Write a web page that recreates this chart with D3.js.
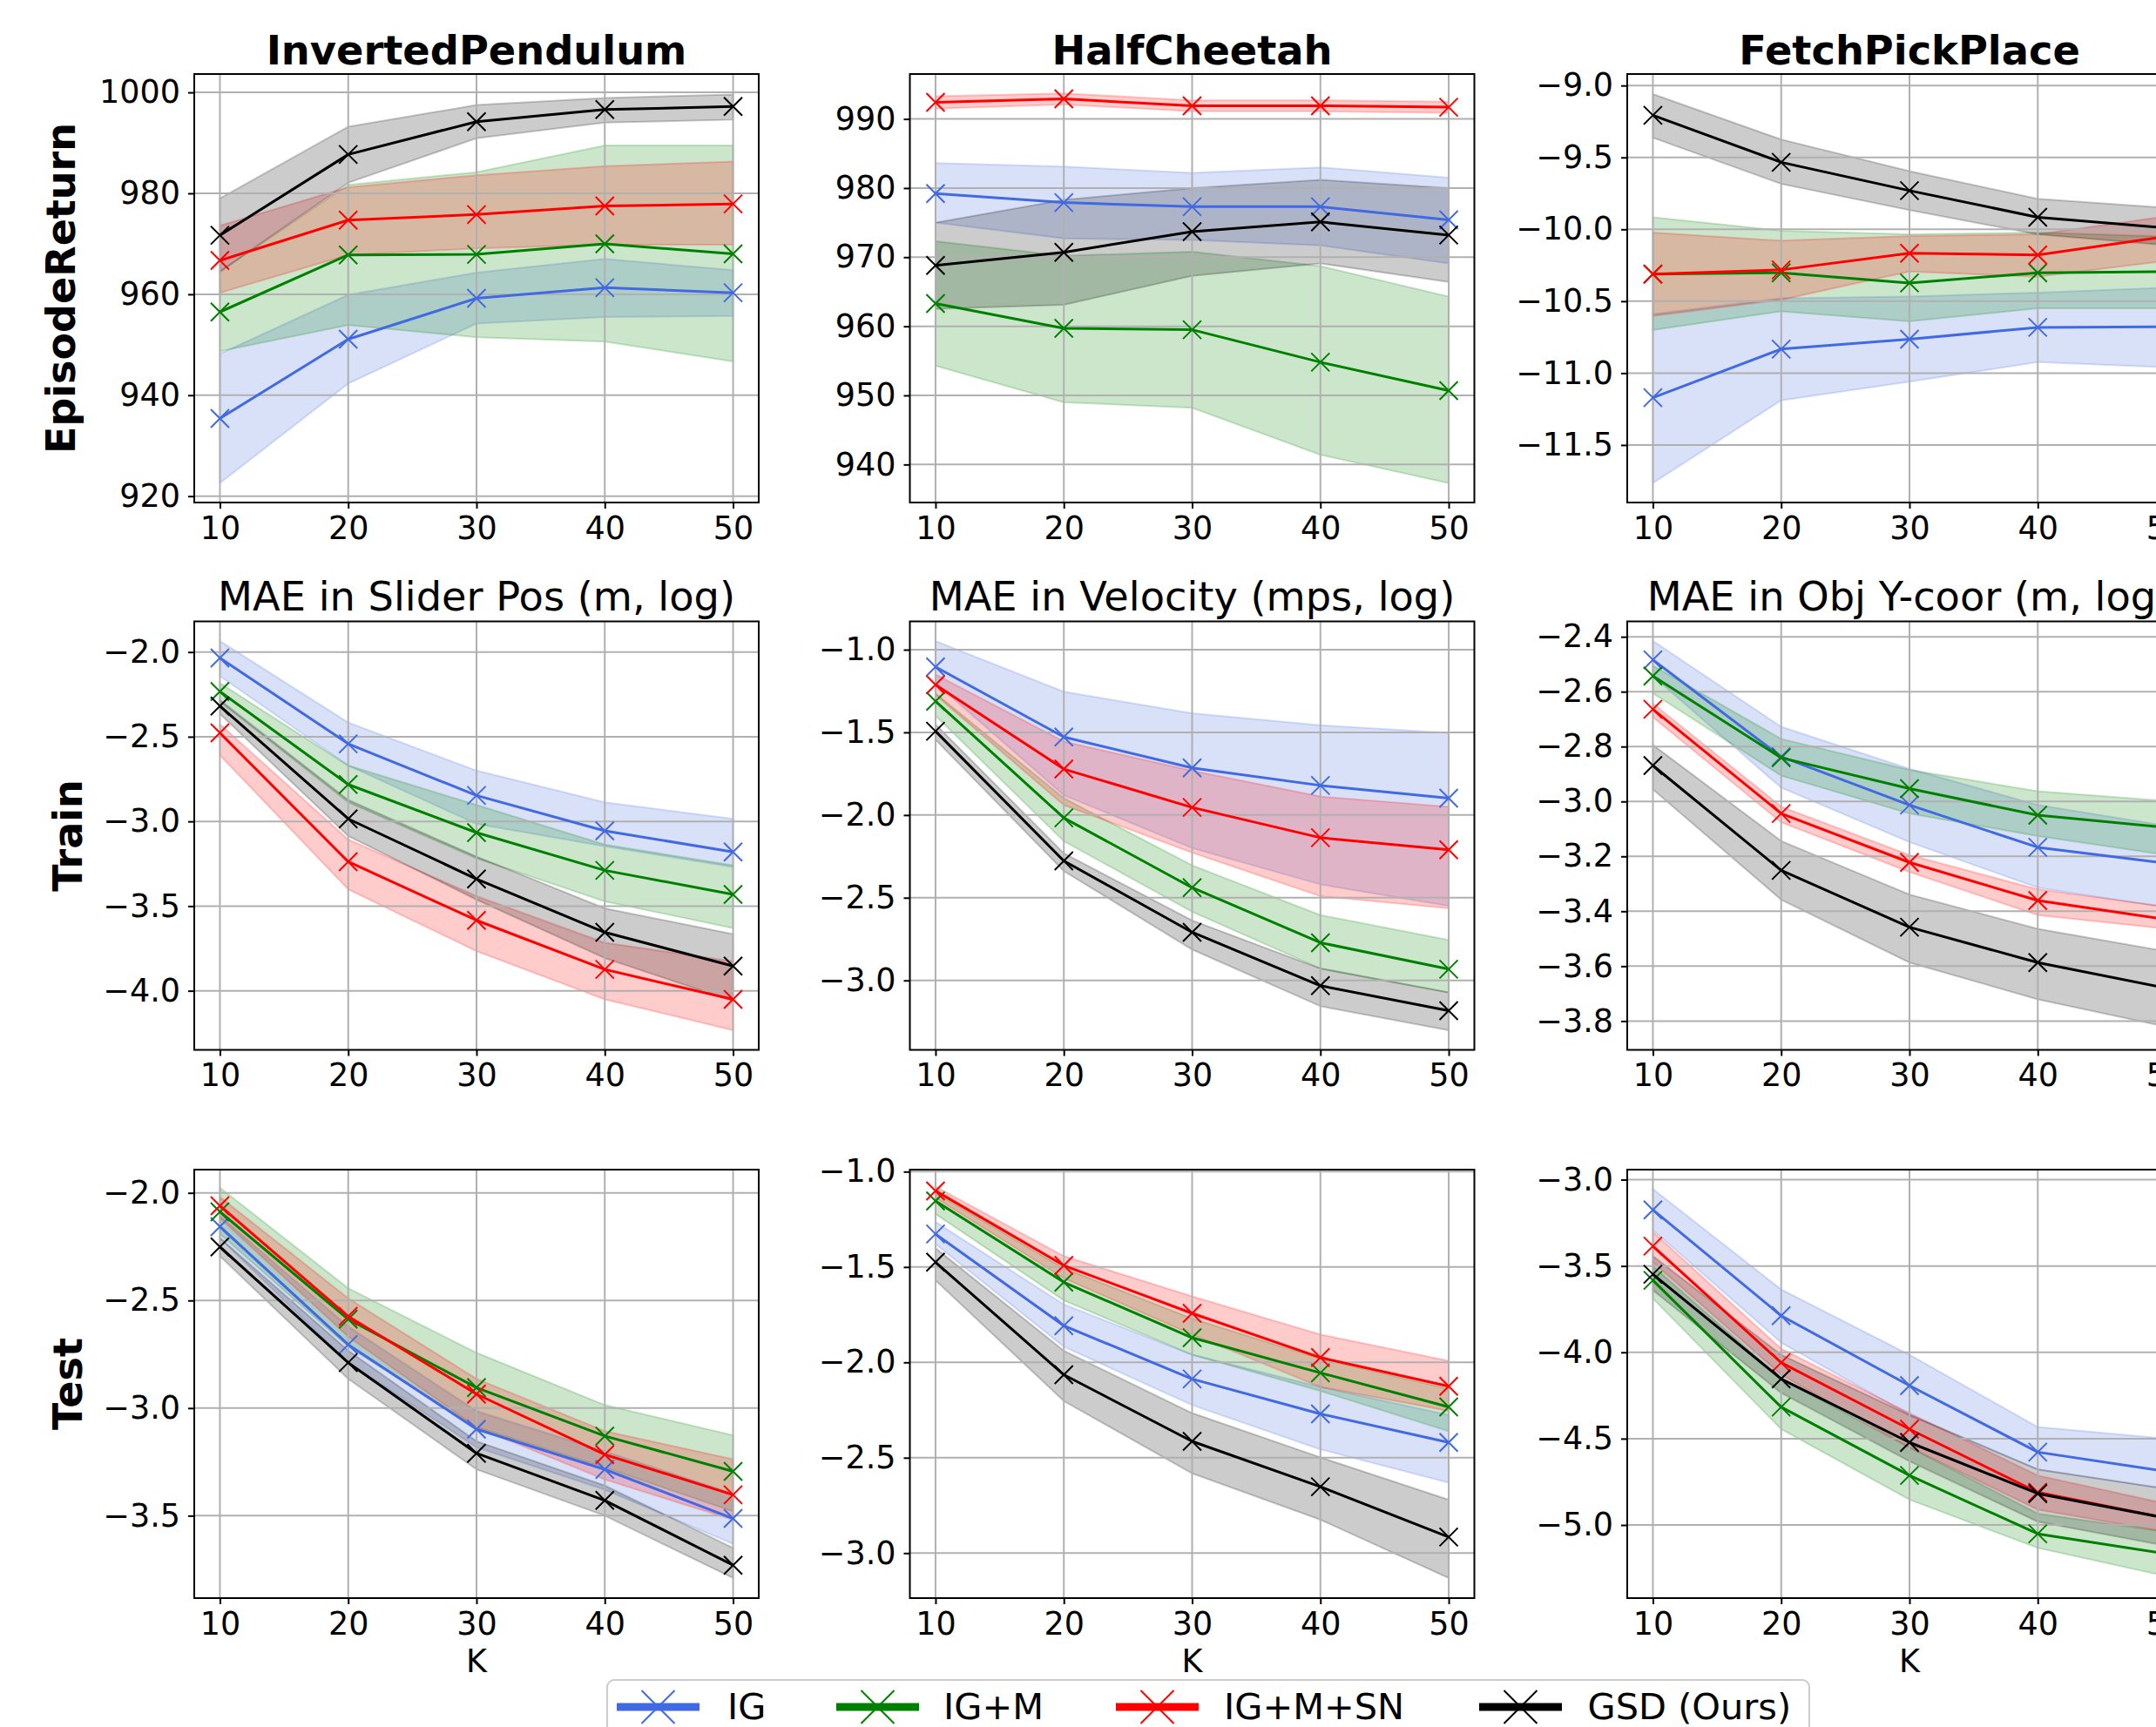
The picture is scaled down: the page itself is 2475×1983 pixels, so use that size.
<!DOCTYPE html>
<html><head><meta charset="utf-8">
<script src="https://cdn.jsdelivr.net/npm/d3@7"></script>
<style>
body{margin:0;background:#fff;}
svg{display:block;}
text{font-family:"DejaVu Sans",sans-serif;}
</style>
</head><body>
<svg id="chart" width="2475" height="1983"></svg>
<script>
// ---------------- DATA ----------------
const K = [10, 20, 30, 40, 50];
const methods = ["IG", "IG+M", "IG+M+SN", "GSD (Ours)"];
const colors = ["#4169E1", "#008000", "#FF0000", "#000000"];
const envTitles = ["InvertedPendulum", "HalfCheetah", "FetchPickPlace"];
const maeTitles = ["MAE in Slider Pos (m, log)", "MAE in Velocity (mps, log)", "MAE in Obj Y-coor (m, log)"];
const rowLabels = ["EpisodeReturn", "Train", "Test"];
const xLabel = "K";

// Row 1: Episode return. Series order: IG, IG+M, IG+M+SN, GSD
const ipRetMean = [[935.4, 951.1, 959.2, 961.3, 960.3], [956.5, 967.8, 967.9, 970.0, 968.0], [966.7, 974.7, 975.8, 977.5, 977.9], [971.7, 987.7, 994.2, 996.6, 997.2]];
const ipRetLo   = [[922.6, 942.3, 954.2, 955.5, 955.7], [948.7, 953.9, 951.5, 950.6, 946.7], [960.3, 967.8, 969.1, 969.8, 969.8], [964.5, 982.1, 990.9, 994.0, 994.6]];
const ipRetHi   = [[948.2, 959.9, 964.3, 967.0, 964.8], [964.5, 981.7, 984.2, 989.5, 989.5], [973.6, 981.2, 983.6, 985.4, 986.3], [979.0, 993.2, 997.5, 998.9, 999.6]];
const ipRetDomain = [918.74, 1003.64];
const ipRetTicks = [920, 940, 960, 980, 1000];

const hcRetMean = [[979.2, 977.9, 977.3, 977.3, 975.4], [963.3, 959.7, 959.5, 954.8, 950.7], [992.4, 992.9, 991.9, 991.9, 991.7], [968.8, 970.7, 973.7, 975.1, 973.2]];
const hcRetLo   = [[975.0, 972.7, 972.5, 971.7, 969.1], [954.3, 949.0, 948.2, 941.4, 937.3], [991.5, 992.1, 991.1, 991.1, 990.9], [962.5, 963.1, 967.3, 969.1, 966.4]];
const hcRetHi   = [[983.6, 983.1, 982.2, 983.0, 981.5], [972.3, 970.2, 970.8, 968.7, 964.3], [993.3, 993.7, 992.7, 992.7, 992.5], [975.0, 978.3, 980.0, 981.2, 980.0]];
const hcRetDomain = [934.5, 996.5];
const hcRetTicks = [940, 950, 960, 970, 980, 990];

const fpRetMean = [[-11.171, -10.833, -10.764, -10.682, -10.677], [-10.312, -10.302, -10.373, -10.302, -10.294], [-10.312, -10.282, -10.166, -10.178, -10.05], [-9.207, -9.534, -9.731, -9.916, -9.99]];
const fpRetLo   = [[-11.764, -11.19, -11.06, -10.924, -10.96], [-10.70, -10.57, -10.64, -10.549, -10.55], [-10.603, -10.49, -10.294, -10.33, -10.22], [-9.363, -9.684, -9.867, -10.035, -10.11]];
const fpRetHi   = [[-10.59, -10.48, -10.467, -10.44, -10.405], [-9.916, -10.01, -10.035, -10.023, -10.05], [-10.023, -10.079, -10.047, -10.035, -9.91], [-9.059, -9.375, -9.595, -9.788, -9.85]];
const fpRetDomain = [-11.90, -8.92];
const fpRetTicks = [-11.5, -11.0, -10.5, -10.0, -9.5, -9.0];

// Row 2: Train MAE (log)
const ipTrainMean = [[-2.035, -2.542, -2.847, -3.056, -3.18], [-2.233, -2.782, -3.066, -3.289, -3.431], [-2.477, -3.238, -3.584, -3.874, -4.051], [-2.319, -2.985, -3.34, -3.655, -3.854]];
const ipTrainLo   = [[-2.142, -2.67, -3.015, -3.147, -3.269], [-2.294, -2.887, -3.218, -3.472, -3.63], [-2.609, -3.401, -3.766, -4.051, -4.233], [-2.365, -3.086, -3.462, -3.807, -4.061]];
const ipTrainHi   = [[-1.935, -2.416, -2.70, -2.887, -2.985], [-2.183, -2.67, -2.903, -3.137, -3.259], [-2.426, -3.107, -3.441, -3.716, -3.827], [-2.284, -2.873, -3.208, -3.513, -3.665]];
const ipTrainDomain = [-4.349, -1.819];
const ipTrainTicks = [-4.0, -3.5, -3.0, -2.5, -2.0];

const hcTrainMean = [[-1.104, -1.528, -1.715, -1.821, -1.898], [-1.312, -2.017, -2.439, -2.772, -2.932], [-1.212, -1.722, -1.954, -2.137, -2.21], [-1.493, -2.277, -2.709, -3.032, -3.183]];
const hcTrainLo   = [[-1.202, -1.88, -2.20, -2.42, -2.55], [-1.399, -2.158, -2.585, -2.928, -3.073], [-1.274, -1.94, -2.227, -2.491, -2.564], [-1.545, -2.339, -2.813, -3.156, -3.302]];
const hcTrainHi   = [[-0.948, -1.254, -1.385, -1.457, -1.503], [-1.264, -1.898, -2.304, -2.605, -2.755], [-1.15, -1.555, -1.732, -1.888, -1.95], [-1.451, -2.231, -2.637, -2.928, -3.073]];
const hcTrainDomain = [-3.42, -0.829];
const hcTrainTicks = [-3.0, -2.5, -2.0, -1.5, -1.0];

const fpTrainMean = [[-2.484, -2.837, -3.013, -3.167, -3.225], [-2.543, -2.841, -2.953, -3.05, -3.095], [-2.664, -3.044, -3.222, -3.361, -3.43], [-2.869, -3.251, -3.458, -3.587, -3.68]];
const fpTrainLo   = [[-2.543, -2.95, -3.148, -3.314, -3.386], [-2.606, -2.906, -3.044, -3.126, -3.195], [-2.693, -3.076, -3.257, -3.414, -3.464], [-2.956, -3.358, -3.587, -3.721, -3.821]];
const fpTrainHi   = [[-2.415, -2.728, -2.881, -3.013, -3.088], [-2.505, -2.772, -2.885, -2.963, -2.998], [-2.643, -3.019, -3.195, -3.32, -3.383], [-2.794, -3.144, -3.339, -3.464, -3.546]];
const fpTrainDomain = [-3.905, -2.344];
const fpTrainTicks = [-3.8, -3.6, -3.4, -3.2, -3.0, -2.8, -2.6, -2.4];

// Row 3: Test MAE (log)
const ipTestMean = [[-2.157, -2.705, -3.098, -3.285, -3.513], [-2.088, -2.587, -2.905, -3.13, -3.294], [-2.06, -2.574, -2.935, -3.216, -3.403], [-2.251, -2.789, -3.21, -3.429, -3.73]];
const ipTestLo   = [[-2.21, -2.789, -3.182, -3.379, -3.631], [-2.191, -2.715, -3.089, -3.276, -3.48], [-2.116, -2.668, -3.089, -3.332, -3.519], [-2.294, -2.864, -3.285, -3.5, -3.79]];
const ipTestHi   = [[-2.107, -2.621, -3.014, -3.201, -3.397], [-1.976, -2.443, -2.743, -2.986, -3.126], [-2.019, -2.49, -2.864, -3.107, -3.238], [-2.21, -2.733, -3.154, -3.36, -3.65]];
const ipTestDomain = [-3.883, -1.892];
const ipTestTicks = [-3.5, -3.0, -2.5, -2.0];

const hcTestMean = [[-1.327, -1.808, -2.087, -2.27, -2.42], [-1.154, -1.58, -1.871, -2.055, -2.234], [-1.101, -1.492, -1.743, -1.975, -2.125], [-1.475, -2.065, -2.414, -2.652, -2.916]];
const hcTestLo   = [[-1.38, -1.918, -2.224, -2.456, -2.631], [-1.222, -1.675, -1.96, -2.15, -2.361], [-1.137, -1.559, -1.854, -2.129, -2.255], [-1.57, -2.203, -2.582, -2.825, -3.131]];
const hcTestHi   = [[-1.264, -1.696, -1.96, -2.129, -2.276], [-1.112, -1.506, -1.77, -1.981, -2.139], [-1.078, -1.443, -1.654, -1.854, -1.992], [-1.401, -1.939, -2.266, -2.498, -2.72]];
const hcTestDomain = [-3.236, -0.9895];
const hcTestTicks = [-3.0, -2.5, -2.0, -1.5, -1.0];

const fpTestMean = [[-3.175, -3.788, -4.193, -4.578, -4.69], [-3.583, -4.317, -4.713, -5.051, -5.167], [-3.385, -4.06, -4.445, -4.811, -4.96], [-3.548, -4.154, -4.522, -4.818, -4.96]];
const fpTestLo   = [[-3.291, -3.944, -4.363, -4.678, -4.79], [-3.688, -4.445, -4.853, -5.133, -5.296], [-3.478, -4.13, -4.55, -4.911, -5.04], [-3.641, -4.235, -4.631, -4.981, -5.12]];
const fpTestHi   = [[-3.054, -3.636, -4.014, -4.433, -4.50], [-3.501, -4.154, -4.55, -4.934, -5.04], [-3.303, -3.979, -4.352, -4.713, -4.876], [-3.443, -4.014, -4.363, -4.678, -4.79]];
const fpTestDomain = [-5.4235, -2.942];
const fpTestTicks = [-5.0, -4.5, -4.0, -3.5, -3.0];

const xDomain = [8, 52];

// ---------------- LAYOUT ----------------
const colLeft = [223, 1044.5, 1868];
const rowTop = [85, 713.5, 1343];
const pw = 648, ph = 492;

const panels = [
  {r:0,c:0,mean:ipRetMean,lo:ipRetLo,hi:ipRetHi,domain:ipRetDomain,ticks:ipRetTicks,fmt:d3.format("d")},
  {r:0,c:1,mean:hcRetMean,lo:hcRetLo,hi:hcRetHi,domain:hcRetDomain,ticks:hcRetTicks,fmt:d3.format("d")},
  {r:0,c:2,mean:fpRetMean,lo:fpRetLo,hi:fpRetHi,domain:fpRetDomain,ticks:fpRetTicks,fmt:d3.format(".1f")},
  {r:1,c:0,mean:ipTrainMean,lo:ipTrainLo,hi:ipTrainHi,domain:ipTrainDomain,ticks:ipTrainTicks,fmt:d3.format(".1f")},
  {r:1,c:1,mean:hcTrainMean,lo:hcTrainLo,hi:hcTrainHi,domain:hcTrainDomain,ticks:hcTrainTicks,fmt:d3.format(".1f")},
  {r:1,c:2,mean:fpTrainMean,lo:fpTrainLo,hi:fpTrainHi,domain:fpTrainDomain,ticks:fpTrainTicks,fmt:d3.format(".1f")},
  {r:2,c:0,mean:ipTestMean,lo:ipTestLo,hi:ipTestHi,domain:ipTestDomain,ticks:ipTestTicks,fmt:d3.format(".1f")},
  {r:2,c:1,mean:hcTestMean,lo:hcTestLo,hi:hcTestHi,domain:hcTestDomain,ticks:hcTestTicks,fmt:d3.format(".1f")},
  {r:2,c:2,mean:fpTestMean,lo:fpTestLo,hi:fpTestHi,domain:fpTestDomain,ticks:fpTestTicks,fmt:d3.format(".1f")}
];

const svg = d3.select("#chart");
svg.append("rect").attr("width",2475).attr("height",1983).attr("fill","#fff");

const markerPath = s => `M${-s},${-s}L${s},${s}M${-s},${s}L${s},${-s}`;

panels.forEach((p, pi) => {
  const g = svg.append("g").attr("transform", `translate(${colLeft[p.c]},${rowTop[p.r]})`);
  const x = d3.scaleLinear().domain(xDomain).range([0, pw]);
  const y = d3.scaleLinear().domain(p.domain).range([ph, 0]);
  const clipId = "clip" + pi;
  g.append("clipPath").attr("id", clipId).append("rect").attr("width", pw).attr("height", ph);
  const plot = g.append("g").attr("clip-path", `url(#${clipId})`);

  // bands
  methods.forEach((m, si) => {
    const pts = K.map((k, i) => ({k, lo: p.lo[si][i], hi: p.hi[si][i]}));
    const area = d3.area().x(d => x(d.k)).y0(d => y(d.lo)).y1(d => y(d.hi));
    plot.append("path").attr("d", area(pts))
      .attr("fill", colors[si]).attr("fill-opacity", 0.2)
      .attr("stroke", colors[si]).attr("stroke-opacity", 0.2).attr("stroke-width", 2);
  });

  // grid
  const grid = plot.append("g");
  K.forEach(k => grid.append("line").attr("x1", x(k)).attr("x2", x(k)).attr("y1", 0).attr("y2", ph)
    .attr("stroke", "#b0b0b0").attr("stroke-width", 2));
  p.ticks.forEach(t => grid.append("line").attr("x1", 0).attr("x2", pw).attr("y1", y(t)).attr("y2", y(t))
    .attr("stroke", "#b0b0b0").attr("stroke-width", 2));

  // lines + markers
  methods.forEach((m, si) => {
    const pts = K.map((k, i) => ({k, v: p.mean[si][i]}));
    const line = d3.line().x(d => x(d.k)).y(d => y(d.v));
    plot.append("path").attr("d", line(pts)).attr("fill", "none")
      .attr("stroke", colors[si]).attr("stroke-width", 3).attr("stroke-linejoin", "round");
    plot.selectAll(null).data(pts).enter().append("path")
      .attr("d", markerPath(10.5))
      .attr("transform", d => `translate(${x(d.k)},${y(d.v)})`)
      .attr("fill", "none").attr("stroke", colors[si]).attr("stroke-width", 2);
  });

  // spines
  g.append("rect").attr("width", pw).attr("height", ph).attr("fill", "none")
    .attr("stroke", "#000").attr("stroke-width", 2);

  // axes
  const ax = g.append("g").attr("transform", `translate(0,${ph})`)
    .call(d3.axisBottom(x).tickValues(K).tickFormat(d3.format("d")).tickSize(7).tickPadding(9).tickSizeOuter(0));
  const ay = g.append("g")
    .call(d3.axisLeft(y).tickValues(p.ticks).tickFormat(p.fmt).tickSize(7).tickPadding(9).tickSizeOuter(0));
  [ax, ay].forEach(a => {
    a.select(".domain").remove();
    a.selectAll(".tick line").attr("stroke", "#000").attr("stroke-width", 2);
    a.selectAll(".tick text").attr("font-size", 36.5).attr("fill", "#000")
      .attr("font-family", "DejaVu Sans");
  });

  const cx = colLeft[p.c] + pw / 2;
  if (p.r === 0) {
    svg.append("text").attr("x", cx).attr("y", 73.5).attr("text-anchor", "middle")
      .attr("font-size", 46.3).attr("font-weight", "bold").text(envTitles[p.c]);
  } else if (p.r === 1) {
    svg.append("text").attr("x", cx).attr("y", 701).attr("text-anchor", "middle")
      .attr("font-size", 46.3).text(maeTitles[p.c]);
  } else {
    svg.append("text").attr("x", cx).attr("y", 1920).attr("text-anchor", "middle")
      .attr("font-size", 36.5).text(xLabel);
  }
});

// Row labels
const rowLabelX = [86, 93.5, 93.5];
rowLabels.forEach((t, r) => {
  const cy = rowTop[r] + ph / 2;
  svg.append("text").attr("transform", `translate(${rowLabelX[r]},${cy}) rotate(-90)`)
    .attr("text-anchor", "middle").attr("font-size", 46).attr("font-weight", "bold").text(t);
});

// Legend
const lg = svg.append("g");
lg.append("rect").attr("x", 697).attr("y", 1929).attr("width", 1380).attr("height", 90).attr("rx", 8)
  .attr("fill", "#fff").attr("fill-opacity", 0.8).attr("stroke", "#cccccc").attr("stroke-width", 2);
const legLineX = [708, 960, 1281, 1698];
const legTextX = [835, 1083, 1405, 1822.5];
const legLen = 95, legY = 1960;
methods.forEach((m, si) => {
  lg.append("line").attr("x1", legLineX[si]).attr("x2", legLineX[si] + legLen)
    .attr("y1", legY).attr("y2", legY).attr("stroke", colors[si]).attr("stroke-width", 9);
  lg.append("path").attr("d", markerPath(19))
    .attr("transform", `translate(${legLineX[si] + legLen / 2},${legY})`)
    .attr("fill", "none").attr("stroke", colors[si]).attr("stroke-width", 2);
  lg.append("text").attr("x", legTextX[si]).attr("y", 1974).attr("font-size", 41.5).text(m);
});
</script>
</body></html>
